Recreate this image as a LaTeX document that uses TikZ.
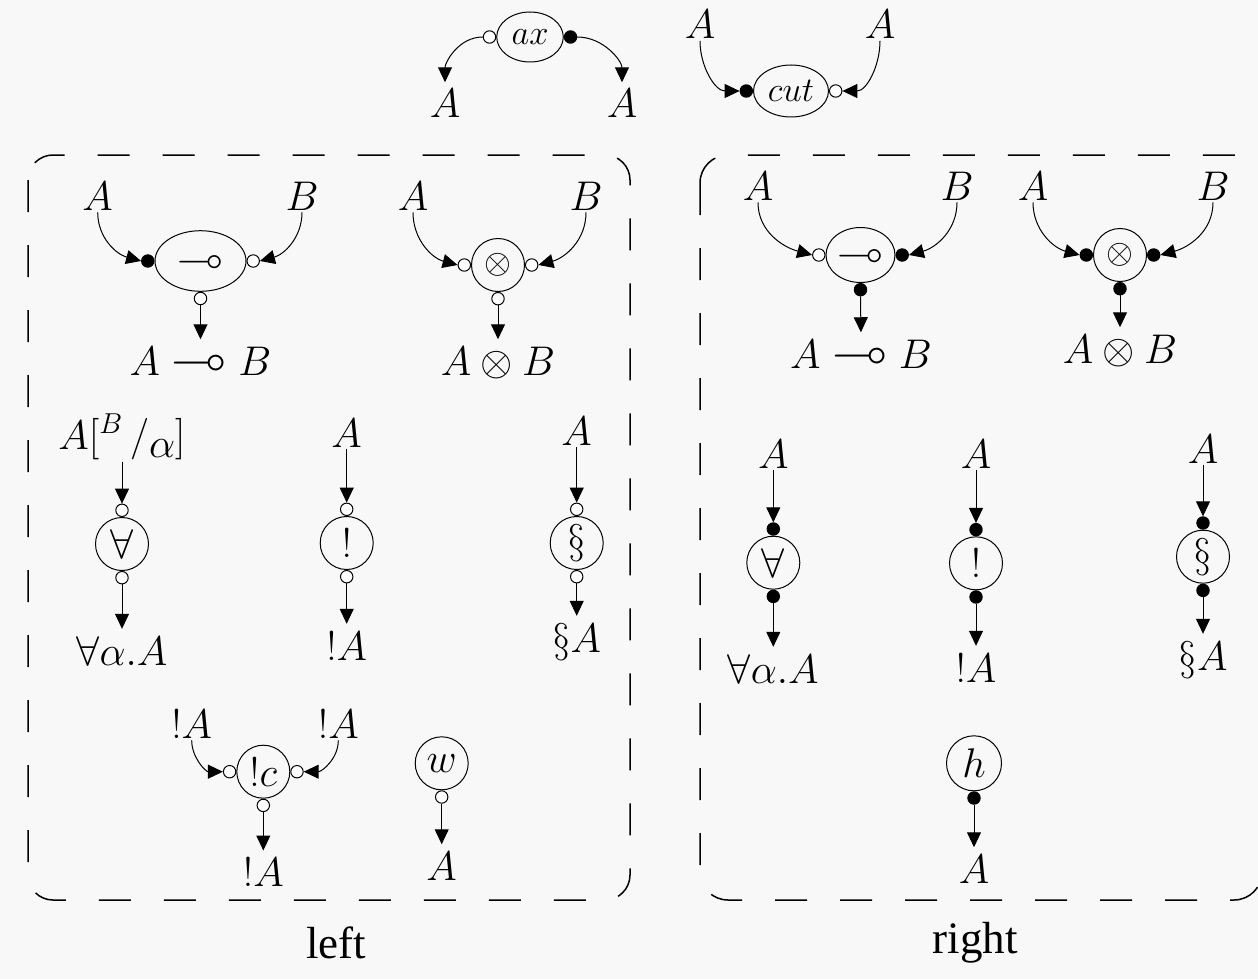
\documentclass[tikz,border=0pt]{standalone}
\usepackage{amssymb}
\usepackage{fontspec}
\newfontfamily\capfont{Liberation Serif}
\usetikzlibrary{arrows.meta,shapes.geometric}
\definecolor{bgc}{RGB}{248,248,248}
% a slightly enlarged linear implication sign
\newcommand{\lolli}{\mathrel{\hbox{\fontsize{24.88}{28}\selectfont$\multimap$}}}
\tikzset{
  px/.style={x=0.5pt,y=0.5pt},
  lab/.style={inner sep=1pt, font=\fontsize{20.74}{25}\selectfont},
  small/.style={font=\fontsize{17.28}{21}\selectfont},
  cell/.style={circle, draw, line width=0.5pt, inner sep=0pt, minimum size=26.5pt,
    font=\fontsize{20.74}{25}\selectfont},
  oval/.style={ellipse, draw, line width=0.5pt, inner sep=0pt},
  wport/.style={circle, draw, line width=0.5pt, fill=white, inner sep=0pt, minimum size=6.2pt},
  bport/.style={wport, fill=black},
  wire/.style={line width=0.5pt, -{Triangle[length=7.5pt,width=7pt]}},
  towire/.style={wire, shorten >=2.5pt},
  zone/.style={dash pattern=on 16pt off 16.5pt, line width=0.75pt},
  caption/.style={font=\capfont\fontsize{22.5}{27}\selectfont, anchor=base},
}
\begin{document}
\begin{tikzpicture}[px]
\fill[bgc] (0,0) rectangle (1258,-979);
\useasboundingbox (0,0) rectangle (1258,-979);

% ---------- axiom link ----------
\node[oval, small, minimum width=33.3pt, minimum height=25pt] (ax) at (530,-37) {$ax$};
\node[wport, anchor=east] (axl) at (ax.west) {};
\node[bport, anchor=west] (axr) at (ax.east) {};
\node[lab, anchor=base] (ax1) at (445,-118) {$A$};
\node[lab, anchor=base] (ax2) at (622,-118) {$A$};
\draw[towire] (axl.west) to[out=180,in=90] (ax1.north);
\draw[towire] (axr.east) to[out=0,in=90] (ax2.north);

% ---------- cut link ----------
\node[oval, small, minimum width=37.5pt, minimum height=26pt] (cut) at (791,-91) {$cut$};
\node[bport, anchor=east] (cutl) at (cut.west) {};
\node[wport, anchor=west] (cutr) at (cut.east) {};
\node[lab, anchor=base] (cut1) at (700,-38.5) {$A$};
\node[lab, anchor=base] (cut2) at (880,-38.5) {$A$};
\draw[wire] (cut1.south) to[out=-90,in=180] (cutl.west);
\draw[wire] (cut2.south) to[out=-90,in=0] (cutr.east);

% ---------- dashed zones ----------
\draw[zone, rounded corners=12.5pt] (28,-155) rectangle (630,-900);
\draw[zone, rounded corners=14pt] (700,-155) rectangle (1262,-900);
\node[caption] (leftcap) at (336,-958) {left};
\node[caption] (rightcap) at (975,-953) {right};

% ================= left zone =================
% linear implication
\node[oval, lab, inner sep=0pt, minimum width=45.5pt, minimum height=30.3pt] (llo) at (200.5,-261) {$\multimap$};
\node[bport, anchor=east] (llol) at (llo.west) {};
\node[wport, anchor=west] (llor) at (llo.east) {};
\node[wport, anchor=north] (llob) at (llo.south) {};
\node[lab, anchor=base] (lloa) at (97.7,-210) {$A$};
\node[lab, anchor=base] (llobb) at (302,-210) {$B$};
\node[lab, anchor=base] (lloo) at (200.5,-375) {$A \lolli B$};
\draw[wire] (lloa.south) to[out=-90,in=165] (llol.west);
\draw[wire] (llobb.south) to[out=-90,in=15] (llor.east);
\draw[towire] (llob.south) -- (lloo.north);

% tensor
\node[cell, small] (lte) at (498,-265) {$\otimes$};
\node[wport, anchor=east] (ltel) at (lte.west) {};
\node[wport, anchor=west] (lter) at (lte.east) {};
\node[wport, anchor=north] (lteb) at (lte.south) {};
\node[lab, anchor=base] (ltea) at (413,-210) {$A$};
\node[lab, anchor=base] (ltebb) at (586,-210) {$B$};
\node[lab, anchor=base] (lteo) at (498,-375) {$A \otimes B$};
\draw[wire] (ltea.south) to[out=-90,in=165] (ltel.west);
\draw[wire] (ltebb.south) to[out=-90,in=15] (lter.east);
\draw[towire] (lteb.south) -- (lteo.north);

% forall
\node[cell] (lfa) at (122,-544) {$\forall$};
\node[wport, anchor=south] (lfat) at (lfa.north) {};
\node[wport, anchor=north] (lfab) at (lfa.south) {};
\node[lab, anchor=base] (lfai) at (122,-449)
  {$A\bigl[{}^{B}\,\big/\lower4pt\hbox{$\alpha$}\bigr]$};
\node[lab, anchor=base] (lfao) at (122,-665) {$\forall\alpha.A$};
\draw[wire] (lfai.south) -- (lfat.north);
\draw[towire] (lfab.south) -- (lfao.north);

% of course
\node[cell] (lbg) at (346.7,-543) {$!$};
\node[wport, anchor=south] (lbgt) at (lbg.north) {};
\node[wport, anchor=north] (lbgb) at (lbg.south) {};
\node[lab, anchor=base] (lbgi) at (346.7,-447) {$A$};
\node[lab, anchor=base] (lbgo) at (346.7,-660) {$!A$};
\draw[wire] (lbgi.south) -- (lbgt.north);
\draw[towire] (lbgb.south) -- (lbgo.north);

% paragraph
\node[cell] (lpa) at (576.7,-543) {$\S$};
\node[wport, anchor=south] (lpat) at (lpa.north) {};
\node[wport, anchor=north] (lpab) at (lpa.south) {};
\node[lab, anchor=base] (lpai) at (576.7,-445) {$A$};
\node[lab, anchor=base] (lpao) at (576.7,-652) {$\S A$};
\draw[wire] (lpai.south) -- (lpat.north);
\draw[towire] (lpab.south) -- (lpao.north);

% contraction
\node[cell] (lct) at (263.3,-771.7) {$!c$};
\node[wport, anchor=east] (lctl) at (lct.west) {};
\node[wport, anchor=west] (lctr) at (lct.east) {};
\node[wport, anchor=north] (lctb) at (lct.south) {};
\node[lab, anchor=base] (lcta) at (191.7,-738) {$!A$};
\node[lab, anchor=base] (lctbb) at (338.3,-738) {$!A$};
\node[lab, anchor=base] (lcto) at (263.3,-886.7) {$!A$};
\draw[wire] (lcta.south) to[out=-90,in=180] (lctl.west);
\draw[wire] (lctbb.south) to[out=-90,in=0] (lctr.east);
\draw[towire] (lctb.south) -- (lcto.north);

% weakening
\node[cell] (lwk) at (441.7,-763.3) {$w$};
\node[wport, anchor=north] (lwkb) at (lwk.south) {};
\node[lab, anchor=base] (lwko) at (441.7,-880) {$A$};
\draw[towire] (lwkb.south) -- (lwko.north);

% ================= right zone =================
% linear implication
\node[oval, lab, inner sep=0pt, minimum width=34.5pt, minimum height=27.5pt] (rlo) at (860.5,-255) {$\multimap$};
\node[wport, anchor=east] (rlol) at (rlo.west) {};
\node[bport, anchor=west] (rlor) at (rlo.east) {};
\node[bport, anchor=north] (rlob) at (rlo.south) {};
\node[lab, anchor=base] (rloa) at (758,-200) {$A$};
\node[lab, anchor=base] (rlobb) at (957,-200) {$B$};
\node[lab, anchor=base] (rloo) at (861,-368) {$A \lolli B$};
\draw[wire] (rloa.south) to[out=-90,in=165] (rlol.west);
\draw[wire] (rlobb.south) to[out=-90,in=15] (rlor.east);
\draw[towire] (rlob.south) -- (rloo.north);

% tensor
\node[cell, small] (rte) at (1120,-255) {$\otimes$};
\node[bport, anchor=east] (rtel) at (rte.west) {};
\node[bport, anchor=west] (rter) at (rte.east) {};
\node[bport, anchor=north] (rteb) at (rte.south) {};
\node[lab, anchor=base] (rtea) at (1033,-200) {$A$};
\node[lab, anchor=base] (rtebb) at (1213,-200) {$B$};
\node[lab, anchor=base] (rteo) at (1120,-363) {$A \otimes B$};
\draw[wire] (rtea.south) to[out=-90,in=165] (rtel.west);
\draw[wire] (rtebb.south) to[out=-90,in=15] (rter.east);
\draw[towire] (rteb.south) -- (rteo.north);

% forall
\node[cell] (rfa) at (773.3,-562.7) {$\forall$};
\node[bport, anchor=south] (rfat) at (rfa.north) {};
\node[bport, anchor=north] (rfab) at (rfa.south) {};
\node[lab, anchor=base] (rfai) at (773.3,-468) {$A$};
\node[lab, anchor=base] (rfao) at (773.3,-683) {$\forall\alpha.A$};
\draw[wire] (rfai.south) -- (rfat.north);
\draw[towire] (rfab.south) -- (rfao.north);

% of course
\node[cell] (rbg) at (976,-563.3) {$!$};
\node[bport, anchor=south] (rbgt) at (rbg.north) {};
\node[bport, anchor=north] (rbgb) at (rbg.south) {};
\node[lab, anchor=base] (rbgi) at (976,-468) {$A$};
\node[lab, anchor=base] (rbgo) at (976,-682) {$!A$};
\draw[wire] (rbgi.south) -- (rbgt.north);
\draw[towire] (rbgb.south) -- (rbgo.north);

% paragraph
\node[cell] (rpa) at (1203,-556.7) {$\S$};
\node[bport, anchor=south] (rpat) at (rpa.north) {};
\node[bport, anchor=north] (rpab) at (rpa.south) {};
\node[lab, anchor=base] (rpai) at (1203,-463) {$A$};
\node[lab, anchor=base] (rpao) at (1203,-670) {$\S A$};
\draw[wire] (rpai.south) -- (rpat.north);
\draw[towire] (rpab.south) -- (rpao.north);

% hole
\node[cell, minimum size=27.5pt] (rhl) at (974,-763.3) {$h$};
\node[bport, anchor=north] (rhlb) at (rhl.south) {};
\node[lab, anchor=base] (rhlo) at (974,-883) {$A$};
\draw[towire] (rhlb.south) -- (rhlo.north);
\end{tikzpicture}
\end{document}
